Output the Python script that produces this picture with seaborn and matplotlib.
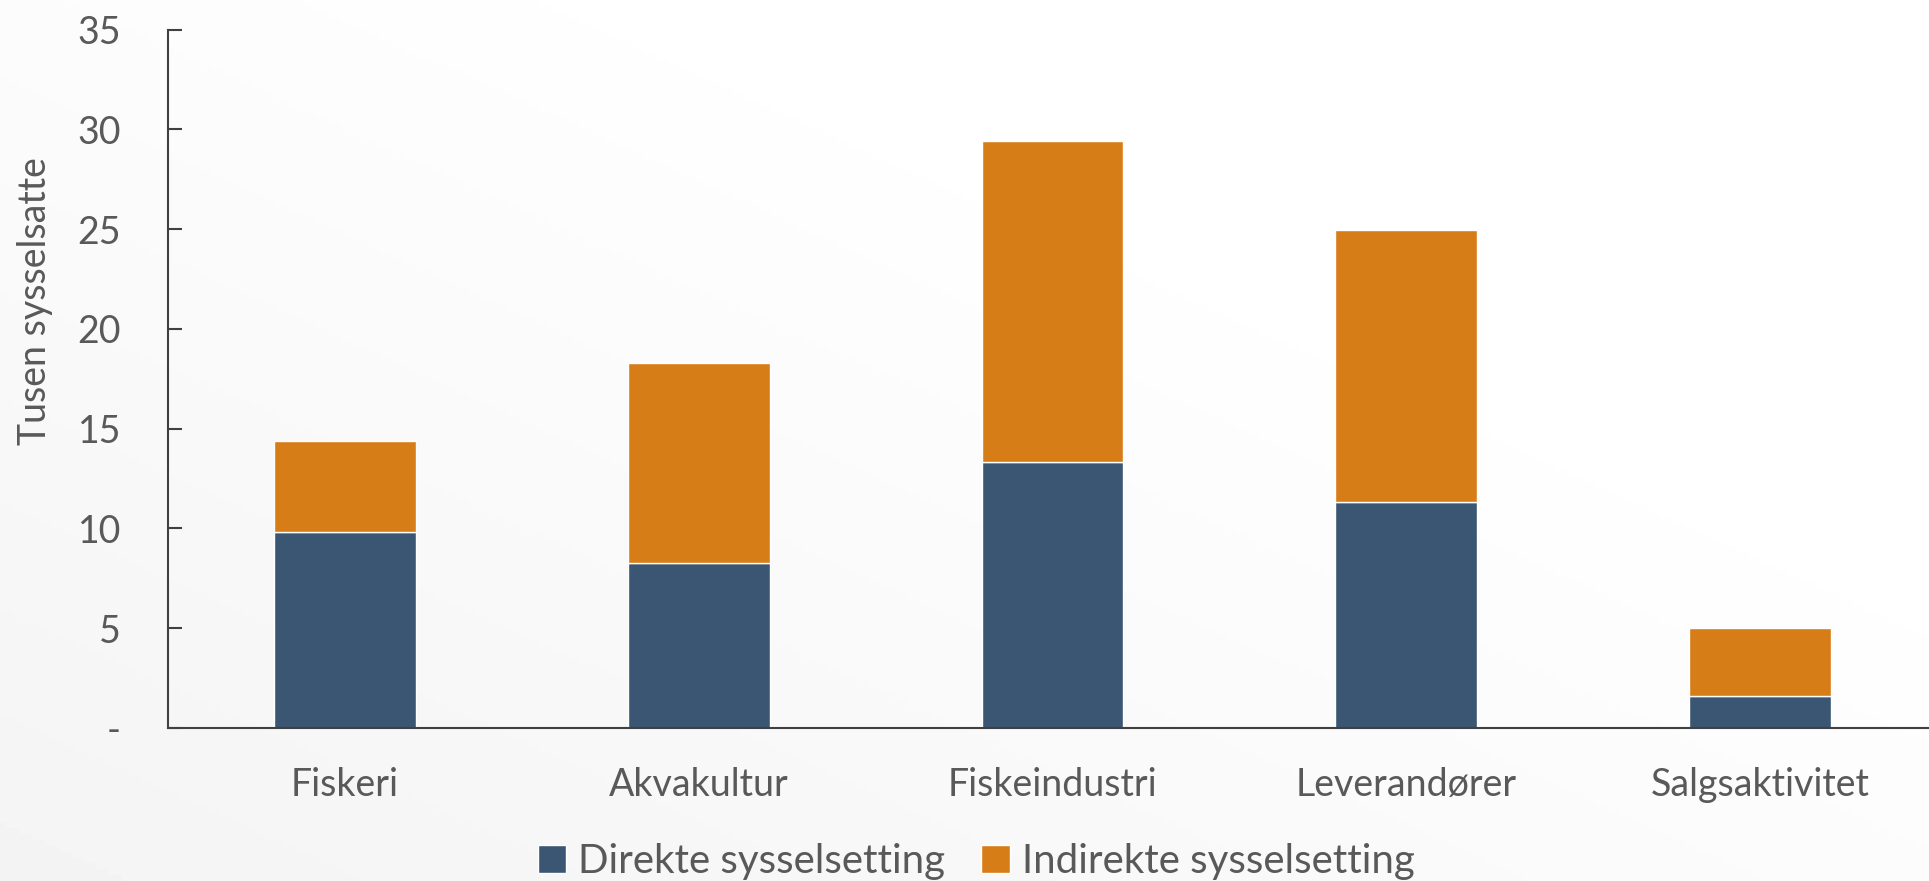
import numpy as np
import pandas as pd
import matplotlib
matplotlib.use("Agg")
import matplotlib.pyplot as plt
import seaborn as sns
from matplotlib.patches import Patch

# Data (tusen sysselsatte)
kategorier = ['Fiskeri', 'Akvakultur', 'Fiskeindustri', 'Leverandører', 'Salgsaktivitet']
direkte = [9.8, 8.25, 13.35, 11.3, 1.6]
indirekte = [4.6, 10.05, 16.05, 13.65, 3.4]

yticks = [0, 5, 10, 15, 20, 25, 30, 35]
ytick_labels = ['-', '5', '10', '15', '20', '25', '30', '35']

serie_navn = ['Direkte sysselsetting', 'Indirekte sysselsetting']
farger = ['#3A5673', '#D67D17']
tekstfarge = '#595959'

df = pd.DataFrame({'Kategori': kategorier, 'Direkte': direkte, 'Indirekte': indirekte})

sns.set_style('white')
plt.rcParams['font.family'] = ['Lato', 'DejaVu Sans']

fig = plt.figure(figsize=(19.29, 8.81), dpi=100)

# bakgrunn med svak gradient
bg = fig.add_axes([0, 0, 1, 1], zorder=-10)
xx, yy = np.meshgrid(np.linspace(0, 1, 300), np.linspace(0, 1, 150))
grad = 0.955 + 0.045 * np.clip((xx + (1 - yy)) / 1.4, 0, 1)
bg.imshow(grad, cmap='gray', vmin=0, vmax=1, aspect='auto', extent=[0, 1, 0, 1], origin='upper')
bg.set_axis_off()

ax = fig.add_axes([0.0872, 0.1737, 0.9168, 0.7928])
ax.set_facecolor('none')

sns.barplot(data=df, x='Kategori', y='Direkte', color=farger[0], width=0.4,
            saturation=1, ax=ax, zorder=2)
sns.barplot(data=df, x='Kategori', y='Indirekte', color=farger[1], width=0.4,
            saturation=1, bottom=df['Direkte'], ax=ax, zorder=2)

ax.set_xlim(-0.5, 4.5)
ax.set_ylim(0, 35)
ax.set_yticks(yticks)
ax.set_yticklabels(ytick_labels)
ax.set_xlabel('')
ax.set_ylabel('Tusen sysselsatte', fontsize=27, color=tekstfarge)
ax.yaxis.set_label_coords(-0.0653, 0.611)

ax.tick_params(axis='y', direction='in', length=10, width=1.5, color='#404040',
               labelsize=27, labelcolor=tekstfarge, pad=34, left=True)
ax.tick_params(axis='x', length=0, labelsize=27, labelcolor=tekstfarge, pad=28)

sns.despine(ax=ax, top=True, right=True)
for s in ['left', 'bottom']:
    ax.spines[s].set_color('#404040')
    ax.spines[s].set_linewidth(1.5)

handles = [Patch(facecolor=farger[0]), Patch(facecolor=farger[1])]
fig.legend(handles, serie_navn, loc='center', bbox_to_anchor=(0.506, 0.022),
           ncol=2, frameon=False, fontsize=29, labelcolor=tekstfarge,
           handlelength=0.7, handleheight=0.7, handletextpad=0.3,
           columnspacing=0.9)

fig.savefig('out.png', dpi=100)
